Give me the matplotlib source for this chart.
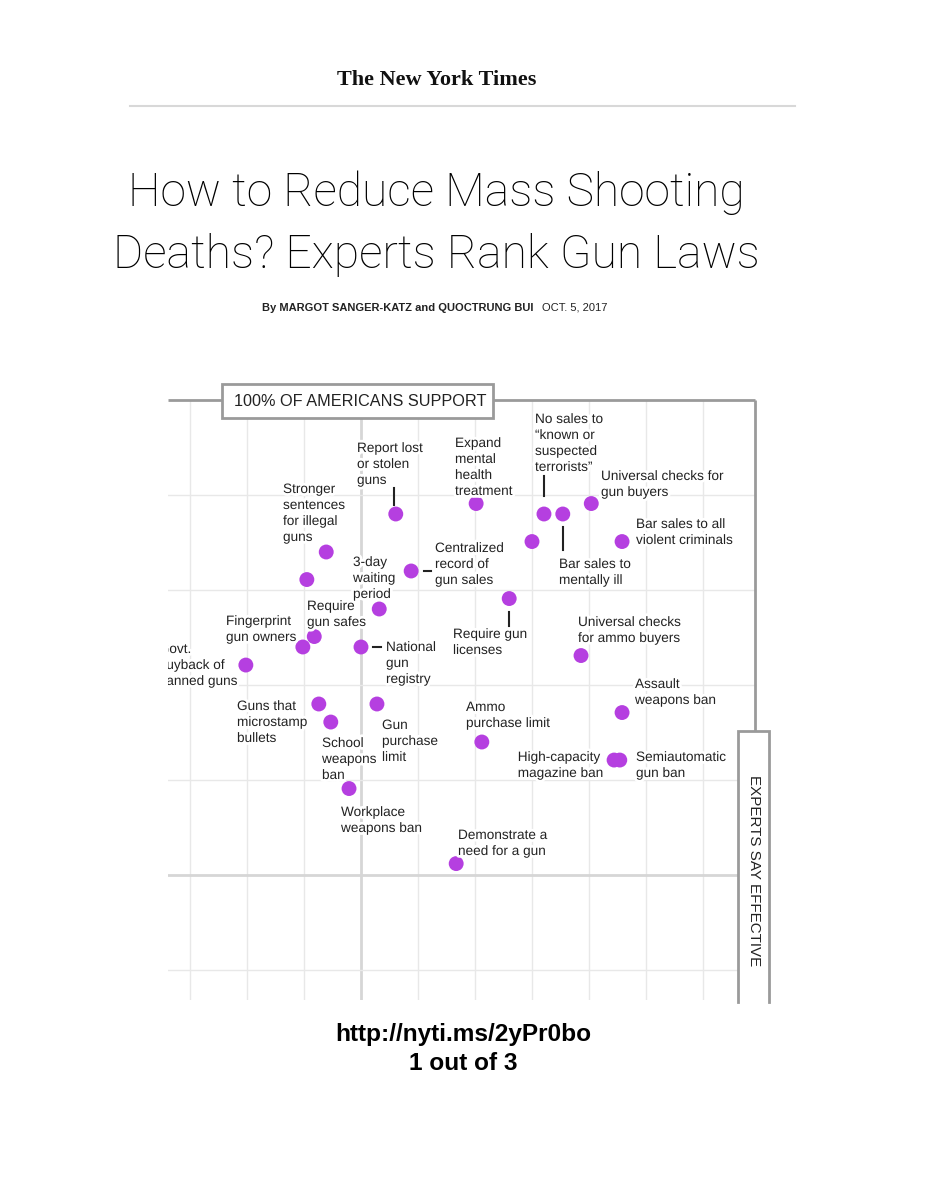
import matplotlib
matplotlib.use("Agg")
import matplotlib.pyplot as plt
import matplotlib.patheffects as pe
from matplotlib.patches import Rectangle

# ---------------- data ----------------
laws = [
    "Report lost or stolen guns", "Expand mental health treatment",
    "No sales to known or suspected terrorists", "Bar sales to mentally ill",
    "Universal checks for gun buyers", "Bar sales to all violent criminals",
    "Unlabeled A", "Stronger sentences for illegal guns", "Unlabeled B",
    "Centralized record of gun sales", "Require gun safes",
    "Require gun licenses", "Fingerprint gun owners", "Unlabeled C",
    "National gun registry", "Govt. buyback of banned guns",
    "Universal checks for ammo buyers", "Guns that microstamp bullets",
    "School weapons ban", "Gun purchase limit", "Ammo purchase limit",
    "Assault weapons ban", "High-capacity magazine ban",
    "Semiautomatic gun ban", "Workplace weapons ban",
    "Demonstrate a need for a gun",
]
effectiveness = [4.61, 6.02, 7.21, 7.54, 8.04, 8.58, 7.00, 3.39, 3.05, 4.88,
                 4.32, 6.60, 3.18, 2.98, 4.00, 1.98, 7.86, 3.26, 3.47, 4.28,
                 6.12, 8.58, 8.44, 8.54, 3.79, 5.67]
support = [88.0, 89.1, 88.0, 88.0, 89.1, 85.1, 85.1, 84.0, 81.1, 82.0,
           78.0, 79.1, 75.1, 74.0, 74.0, 72.1, 73.1, 68.0, 66.1, 68.0,
           64.0, 67.1, 62.1, 62.1, 59.1, 51.2]
x_grid = [1, 2, 3, 4, 5, 6, 7, 8, 9, 10]
y_grid = [90, 80, 70, 60, 50, 40]

W, H = 927, 1200
fig = plt.figure(figsize=(W / 100, H / 100), dpi=100)
fig.patch.set_facecolor("white")

# pixel <-> data helpers (only for layout of the frame/axes)
def px2x(px):
    return (px - 133) / 57.0

def py2y(py):
    return 100 - (py - 400) / 9.5

L, R, T, B = 168, 757, 400, 1000
ax = fig.add_axes([L / W, 1 - B / H, (R - L) / W, (B - T) / H])
ax.set_xlim(px2x(L), px2x(R))
ax.set_ylim(py2y(B), py2y(T))
ax.axis("off")

FONT = ["Liberation Sans", "DejaVu Sans"]
halo = [pe.withStroke(linewidth=4, foreground="white")]

# grid
for gx in x_grid:
    lw, c = (2.0, "#d6d6d6") if gx == 4 else (1.0, "#e8e8e8")
    ax.plot([gx, gx], [py2y(B), py2y(T)], color=c, lw=lw, zorder=1)
for gy in y_grid:
    lw, c = (2.0, "#d6d6d6") if gy == 50 else (1.0, "#e8e8e8")
    ax.plot([px2x(L), px2x(755)], [gy, gy], color=c, lw=lw, zorder=1)

# frame: top + right line
fc = "#9a9a9a"
ax.plot([px2x(L), px2x(755)], [100, 100], color=fc, lw=2, zorder=2,
        clip_on=False, solid_capstyle="butt")
ax.plot([px2x(755), px2x(755)], [100, py2y(731)], color=fc, lw=2, zorder=2,
        clip_on=False, solid_capstyle="butt")

# right box (experts say effective)
rb = Rectangle((px2x(738), py2y(1002)), px2x(769) - px2x(738),
               py2y(731) - py2y(1002), facecolor="white", edgecolor="none",
               zorder=3, clip_on=False)
ax.add_patch(rb)
ax.plot([px2x(738), px2x(738), px2x(769), px2x(769)],
        [py2y(1002), py2y(731), py2y(731), py2y(1002)], color=fc, lw=2,
        zorder=4, clip_on=False, solid_joinstyle="miter")
ax.text(px2x(754), py2y(775), "EXPERTS SAY EFFECTIVE", rotation=270,
        ha="center", va="top", fontsize=10.9, family=FONT, color="#222222",
        zorder=5, clip_on=False)

# top box (100% of Americans support)
tb = Rectangle((px2x(222), py2y(418)), px2x(493) - px2x(222),
               py2y(384) - py2y(418), facecolor="white", edgecolor=fc,
               lw=2, zorder=4, clip_on=False)
ax.add_patch(tb)
ax.text(px2x(360), py2y(401), "100% OF AMERICANS SUPPORT", ha="center",
        va="center", fontsize=11.7, family=FONT, color="#222222", zorder=5,
        clip_on=False)

# dots
ax.scatter(effectiveness, support, s=115, color="#b53fe0", edgecolor="none",
           zorder=6)

# labels: (text, x_px, top_y_px, ha)
labels = [
    ("Report lost\nor stolen\nguns", 357, 441, "left"),
    ("Expand\nmental\nhealth\ntreatment", 455, 436, "left"),
    ("No sales to\n\u201cknown or\nsuspected\nterrorists\u201d", 535, 412, "left"),
    ("Universal checks for\ngun buyers", 601, 469, "left"),
    ("Bar sales to all\nviolent criminals", 636, 517, "left"),
    ("Stronger\nsentences\nfor illegal\nguns", 283, 482, "left"),
    ("3-day\nwaiting\nperiod", 353, 555, "left"),
    ("Centralized\nrecord of\ngun sales", 435, 541, "left"),
    ("Bar sales to\nmentally ill", 559, 557, "left"),
    ("Require\ngun safes", 307, 599, "left"),
    ("Fingerprint\ngun owners", 226, 614, "left"),
    ("Require gun\nlicenses", 453, 627, "left"),
    ("Universal checks\nfor ammo buyers", 578, 615, "left"),
    ("National\ngun\nregistry", 386, 640, "left"),
    ("Govt.\nbuyback of\nbanned guns", 238, 642, "right"),
    ("Assault\nweapons ban", 635, 677, "left"),
    ("Guns that\nmicrostamp\nbullets", 237, 699, "left"),
    ("Ammo\npurchase limit", 466, 700, "left"),
    ("Gun\npurchase\nlimit", 382, 718, "left"),
    ("School\nweapons\nban", 322, 736, "left"),
    ("High-capacity\nmagazine ban", 604, 750, "right"),
    ("Semiautomatic\ngun ban", 636, 750, "left"),
    ("Workplace\nweapons ban", 341, 805, "left"),
    ("Demonstrate a\nneed for a gun", 458, 828, "left"),
]
for txt, xp, yp, ha in labels:
    ax.text(px2x(xp), py2y(yp), txt, ha=ha, va="top", multialignment="left",
            fontsize=9.8, family=FONT, color="#222222", linespacing=1.18,
            zorder=7, path_effects=halo, clip_on=True)

# leader lines (pixel coordinates)
leaders = [
    ((394, 394), (488, 505)),
    ((544, 544), (476, 496)),
    ((563, 563), (527, 550)),
    ((509, 509), (612, 626)),
    ((424, 431), (571, 571)),
    ((373, 381), (647, 647)),
]
for xs, ys in leaders:
    ax.plot([px2x(v) for v in xs], [py2y(v) for v in ys], color="#222222",
            lw=1.5, zorder=5)

# header
fig.text(437 / W, 1 - 80 / H, "The New York Times", ha="center", va="center",
         fontsize=16, family=["Liberation Serif", "DejaVu Serif"],
         fontweight="bold", color="#111111")
fig.add_artist(plt.Line2D([130 / W, 795 / W], [1 - 106 / H, 1 - 106 / H],
                          color="#d8d8d8", lw=1.5))
TFONT = ["Roboto", "Lato", "DejaVu Sans"]
fig.text(436 / W, 1 - 193 / H, "How to Reduce Mass Shooting", ha="center",
         va="center", fontsize=33.3, family=TFONT, fontweight="light",
         color="#000000")
fig.text(436 / W, 1 - 255 / H, "Deaths? Experts Rank Gun Laws", ha="center",
         va="center", fontsize=33.3, family=TFONT, fontweight="light",
         color="#000000")
fig.text(262 / W, 1 - 308 / H, "By MARGOT SANGER-KATZ and QUOCTRUNG BUI",
         ha="left", va="center", fontsize=8, family=FONT, fontweight="bold",
         color="#222222")
fig.text(607 / W, 1 - 308 / H, "OCT. 5, 2017", ha="right", va="center",
         fontsize=8, family=FONT, color="#222222")

# footer
fig.text(463 / W, 1 - 1035 / H, "http://nyti.ms/2yPr0bo", ha="center",
         va="center", fontsize=17.6, family=["Liberation Sans", "DejaVu Sans"],
         fontweight="bold", color="#000000")
fig.text(463 / W, 1 - 1064 / H, "1 out of 3", ha="center", va="center",
         fontsize=17.6, family=["Liberation Sans", "DejaVu Sans"],
         fontweight="bold", color="#000000")

fig.savefig("out.png", dpi=100, facecolor="white")
